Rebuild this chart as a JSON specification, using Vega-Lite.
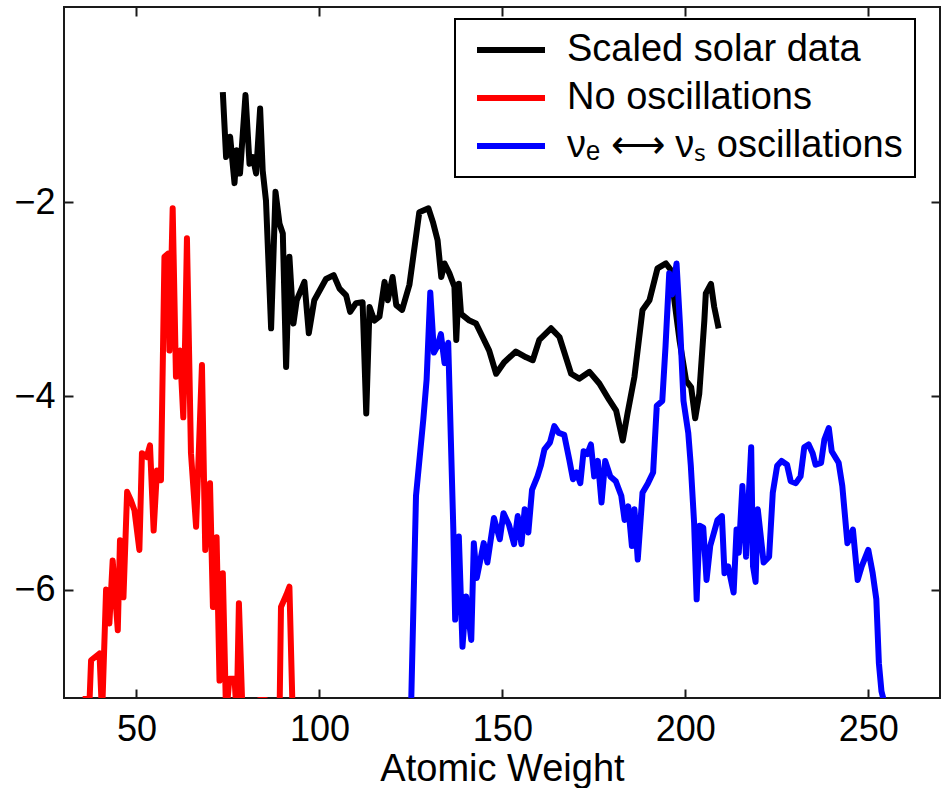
{
"$schema": "https://vega.github.io/schema/vega-lite/v6.json",
"width": 876, "height": 691,
"autosize": {"type": "none"},
"padding": {"left": 64, "top": 7, "right": 5, "bottom": 90},
"background": "white",
"config": {
  "view": {"stroke": "#1a1a1a", "strokeWidth": 2},
  "font": "Liberation Sans",
  "legend": {"strokeWidth": 2},
  "axis": {"domain": false, "grid": false, "tickColor": "#1a1a1a", "tickWidth": 2, "tickSize": -9, "labelFont": "Liberation Sans", "labelFontSize": 36, "labelColor": "black", "titleFont": "Liberation Sans", "titleFontSize": 38, "titleFontWeight": "normal", "titleColor": "black"}
},
"data": {"values": [
{"s":"noosc","x":35.3,"y":-7.13},{"s":"noosc","x":37.2,"y":-7.13},{"s":"noosc","x":37.6,"y":-6.73},{"s":"noosc","x":39.9,"y":-6.66},{"s":"noosc","x":40.6,"y":-7.3},{"s":"noosc","x":41.7,"y":-6.0},{"s":"noosc","x":42.6,"y":-6.35},{"s":"noosc","x":43.5,"y":-5.7},{"s":"noosc","x":44.9,"y":-6.42},{"s":"noosc","x":45.5,"y":-5.49},{"s":"noosc","x":46.45,"y":-6.08},{"s":"noosc","x":47.45,"y":-4.99},{"s":"noosc","x":48.5,"y":-5.08},{"s":"noosc","x":49.45,"y":-5.18},{"s":"noosc","x":50.8,"y":-5.59},{"s":"noosc","x":51.5,"y":-4.59},{"s":"noosc","x":52.8,"y":-4.63},{"s":"noosc","x":53.7,"y":-4.51},{"s":"noosc","x":54.7,"y":-5.39},{"s":"noosc","x":55.6,"y":-4.77},{"s":"noosc","x":56.7,"y":-4.87},{"s":"noosc","x":57.65,"y":-2.56},{"s":"noosc","x":58.6,"y":-2.53},{"s":"noosc","x":59.0,"y":-3.53},{"s":"noosc","x":59.9,"y":-2.06},{"s":"noosc","x":60.8,"y":-3.8},{"s":"noosc","x":61.9,"y":-3.53},{"s":"noosc","x":62.8,"y":-4.22},{"s":"noosc","x":63.3,"y":-3.42},{"s":"noosc","x":63.8,"y":-2.37},{"s":"noosc","x":64.9,"y":-4.59},{"s":"noosc","x":66.3,"y":-5.35},{"s":"noosc","x":67.9,"y":-3.68},{"s":"noosc","x":68.8,"y":-5.59},{"s":"noosc","x":70.1,"y":-4.9},{"s":"noosc","x":70.9,"y":-6.18},{"s":"noosc","x":71.9,"y":-5.46},{"s":"noosc","x":72.7,"y":-6.94},{"s":"noosc","x":73.6,"y":-5.83},{"s":"noosc","x":74.5,"y":-7.3},{"s":"noosc","x":75.4,"y":-6.92},{"s":"noosc","x":76.8,"y":-6.92},{"s":"noosc","x":77.4,"y":-7.3},{"s":"noosc","x":78.0,"y":-6.14},{"s":"noosc","x":79.0,"y":-7.3},{"s":"noosc","x":83.4,"y":-7.3},{"s":"noosc","x":83.6,"y":-7.14},{"s":"noosc","x":85.3,"y":-7.14},{"s":"noosc","x":85.6,"y":-7.3},{"s":"noosc","x":89.1,"y":-7.3},{"s":"noosc","x":89.5,"y":-6.18},{"s":"noosc","x":91.0,"y":-6.05},{"s":"noosc","x":91.8,"y":-5.97},{"s":"noosc","x":92.7,"y":-7.3},
{"s":"solar","x":73.6,"y":-0.86},{"s":"solar","x":74.5,"y":-1.53},{"s":"solar","x":75.6,"y":-1.32},{"s":"solar","x":76.8,"y":-1.8},{"s":"solar","x":77.4,"y":-1.46},{"s":"solar","x":78.3,"y":-1.7},{"s":"solar","x":79.8,"y":-0.89},{"s":"solar","x":80.9,"y":-1.6},{"s":"solar","x":81.8,"y":-1.53},{"s":"solar","x":82.7,"y":-1.7},{"s":"solar","x":83.8,"y":-1.03},{"s":"solar","x":84.5,"y":-1.67},{"s":"solar","x":85.4,"y":-1.98},{"s":"solar","x":86.8,"y":-3.3},{"s":"solar","x":88.0,"y":-1.89},{"s":"solar","x":89.1,"y":-2.22},{"s":"solar","x":90.0,"y":-2.32},{"s":"solar","x":90.9,"y":-3.7},{"s":"solar","x":91.8,"y":-2.56},{"s":"solar","x":92.9,"y":-3.25},{"s":"solar","x":93.8,"y":-3.01},{"s":"solar","x":95.9,"y":-2.82},{"s":"solar","x":97.1,"y":-3.35},{"s":"solar","x":98.6,"y":-3.01},{"s":"solar","x":101.8,"y":-2.79},{"s":"solar","x":103.9,"y":-2.75},{"s":"solar","x":105.5,"y":-2.89},{"s":"solar","x":107.3,"y":-2.96},{"s":"solar","x":108.4,"y":-3.13},{"s":"solar","x":110.0,"y":-3.04},{"s":"solar","x":111.8,"y":-3.03},{"s":"solar","x":112.8,"y":-4.18},{"s":"solar","x":113.7,"y":-3.08},{"s":"solar","x":115.0,"y":-3.22},{"s":"solar","x":116.4,"y":-3.18},{"s":"solar","x":117.8,"y":-2.82},{"s":"solar","x":118.7,"y":-3.01},{"s":"solar","x":120.0,"y":-2.77},{"s":"solar","x":121.0,"y":-3.06},{"s":"solar","x":122.6,"y":-3.11},{"s":"solar","x":124.6,"y":-2.85},{"s":"solar","x":127.3,"y":-2.1},{"s":"solar","x":129.8,"y":-2.06},{"s":"solar","x":131.0,"y":-2.2},{"s":"solar","x":132.3,"y":-2.39},{"s":"solar","x":133.3,"y":-2.77},{"s":"solar","x":134.2,"y":-2.63},{"s":"solar","x":135.5,"y":-2.73},{"s":"solar","x":136.9,"y":-2.87},{"s":"solar","x":137.4,"y":-3.42},{"s":"solar","x":138.1,"y":-2.84},{"s":"solar","x":138.7,"y":-3.15},{"s":"solar","x":141.0,"y":-3.22},{"s":"solar","x":142.8,"y":-3.25},{"s":"solar","x":144.6,"y":-3.39},{"s":"solar","x":146.4,"y":-3.53},{"s":"solar","x":148.3,"y":-3.77},{"s":"solar","x":150.5,"y":-3.65},{"s":"solar","x":153.7,"y":-3.54},{"s":"solar","x":156.5,"y":-3.6},{"s":"solar","x":158.3,"y":-3.63},{"s":"solar","x":160.1,"y":-3.42},{"s":"solar","x":163.3,"y":-3.3},{"s":"solar","x":165.6,"y":-3.39},{"s":"solar","x":168.8,"y":-3.77},{"s":"solar","x":171.0,"y":-3.82},{"s":"solar","x":173.8,"y":-3.75},{"s":"solar","x":176.5,"y":-3.87},{"s":"solar","x":179.2,"y":-4.04},{"s":"solar","x":181.1,"y":-4.15},{"s":"solar","x":182.9,"y":-4.46},{"s":"solar","x":184.2,"y":-4.18},{"s":"solar","x":186.1,"y":-3.8},{"s":"solar","x":188.3,"y":-3.11},{"s":"solar","x":190.2,"y":-3.01},{"s":"solar","x":192.4,"y":-2.68},{"s":"solar","x":194.7,"y":-2.63},{"s":"solar","x":196.1,"y":-2.7},{"s":"solar","x":197.0,"y":-3.01},{"s":"solar","x":198.4,"y":-3.42},{"s":"solar","x":200.2,"y":-3.84},{"s":"solar","x":201.6,"y":-3.91},{"s":"solar","x":202.7,"y":-4.23},{"s":"solar","x":203.8,"y":-3.98},{"s":"solar","x":205.2,"y":-3.22},{"s":"solar","x":205.6,"y":-2.94},{"s":"solar","x":207.0,"y":-2.84},{"s":"solar","x":207.9,"y":-3.08},{"s":"solar","x":209.1,"y":-3.3},
{"s":"osc","x":125.0,"y":-7.3},{"s":"osc","x":126.4,"y":-5.03},{"s":"osc","x":128.4,"y":-4.24},{"s":"osc","x":129.3,"y":-3.83},{"s":"osc","x":130.3,"y":-2.93},{"s":"osc","x":131.3,"y":-3.55},{"s":"osc","x":132.3,"y":-3.48},{"s":"osc","x":133.2,"y":-3.36},{"s":"osc","x":134.2,"y":-3.66},{"s":"osc","x":135.2,"y":-3.45},{"s":"osc","x":136.6,"y":-5.38},{"s":"osc","x":137.1,"y":-6.31},{"s":"osc","x":138.1,"y":-5.45},{"s":"osc","x":139.1,"y":-6.59},{"s":"osc","x":140.1,"y":-6.07},{"s":"osc","x":141.5,"y":-6.52},{"s":"osc","x":142.2,"y":-5.52},{"s":"osc","x":143.0,"y":-5.88},{"s":"osc","x":144.9,"y":-5.52},{"s":"osc","x":145.9,"y":-5.72},{"s":"osc","x":147.7,"y":-5.26},{"s":"osc","x":149.3,"y":-5.48},{"s":"osc","x":150.3,"y":-5.21},{"s":"osc","x":151.8,"y":-5.33},{"s":"osc","x":153.2,"y":-5.53},{"s":"osc","x":154.2,"y":-5.24},{"s":"osc","x":155.2,"y":-5.53},{"s":"osc","x":156.1,"y":-5.17},{"s":"osc","x":157.1,"y":-5.41},{"s":"osc","x":158.1,"y":-4.97},{"s":"osc","x":159.6,"y":-4.83},{"s":"osc","x":160.5,"y":-4.72},{"s":"osc","x":161.5,"y":-4.55},{"s":"osc","x":163.0,"y":-4.48},{"s":"osc","x":164.2,"y":-4.31},{"s":"osc","x":165.4,"y":-4.38},{"s":"osc","x":166.9,"y":-4.4},{"s":"osc","x":168.3,"y":-4.66},{"s":"osc","x":169.3,"y":-4.86},{"s":"osc","x":170.3,"y":-4.79},{"s":"osc","x":171.3,"y":-4.9},{"s":"osc","x":172.2,"y":-4.57},{"s":"osc","x":173.2,"y":-4.6},{"s":"osc","x":174.2,"y":-4.5},{"s":"osc","x":175.1,"y":-4.83},{"s":"osc","x":176.1,"y":-4.67},{"s":"osc","x":177.1,"y":-5.1},{"s":"osc","x":178.1,"y":-4.67},{"s":"osc","x":179.5,"y":-4.83},{"s":"osc","x":181.0,"y":-4.88},{"s":"osc","x":182.5,"y":-5.03},{"s":"osc","x":183.4,"y":-5.28},{"s":"osc","x":184.4,"y":-5.14},{"s":"osc","x":185.4,"y":-5.55},{"s":"osc","x":186.1,"y":-5.17},{"s":"osc","x":187.0,"y":-5.69},{"s":"osc","x":188.3,"y":-5.0},{"s":"osc","x":189.8,"y":-4.9},{"s":"osc","x":191.2,"y":-4.79},{"s":"osc","x":192.2,"y":-4.1},{"s":"osc","x":193.7,"y":-4.05},{"s":"osc","x":194.6,"y":-3.48},{"s":"osc","x":195.6,"y":-2.73},{"s":"osc","x":196.4,"y":-2.95},{"s":"osc","x":197.6,"y":-2.63},{"s":"osc","x":198.6,"y":-3.3},{"s":"osc","x":199.5,"y":-4.05},{"s":"osc","x":200.8,"y":-4.38},{"s":"osc","x":201.5,"y":-4.72},{"s":"osc","x":202.4,"y":-5.31},{"s":"osc","x":203.1,"y":-6.1},{"s":"osc","x":203.9,"y":-5.34},{"s":"osc","x":204.9,"y":-5.36},{"s":"osc","x":205.8,"y":-5.9},{"s":"osc","x":206.8,"y":-5.55},{"s":"osc","x":208.8,"y":-5.28},{"s":"osc","x":210.0,"y":-5.24},{"s":"osc","x":210.7,"y":-5.83},{"s":"osc","x":211.7,"y":-5.76},{"s":"osc","x":213.2,"y":-6.03},{"s":"osc","x":214.0,"y":-5.38},{"s":"osc","x":214.6,"y":-5.62},{"s":"osc","x":215.6,"y":-4.93},{"s":"osc","x":216.6,"y":-5.66},{"s":"osc","x":217.1,"y":-5.21},{"s":"osc","x":218.0,"y":-4.53},{"s":"osc","x":218.5,"y":-5.76},{"s":"osc","x":219.2,"y":-5.92},{"s":"osc","x":219.8,"y":-5.17},{"s":"osc","x":220.5,"y":-5.41},{"s":"osc","x":221.4,"y":-5.72},{"s":"osc","x":222.9,"y":-5.66},{"s":"osc","x":223.9,"y":-5.0},{"s":"osc","x":225.1,"y":-4.72},{"s":"osc","x":226.3,"y":-4.67},{"s":"osc","x":227.8,"y":-4.71},{"s":"osc","x":228.8,"y":-4.88},{"s":"osc","x":230.2,"y":-4.9},{"s":"osc","x":231.5,"y":-4.83},{"s":"osc","x":232.5,"y":-4.53},{"s":"osc","x":233.7,"y":-4.5},{"s":"osc","x":234.8,"y":-4.59},{"s":"osc","x":235.6,"y":-4.71},{"s":"osc","x":237.1,"y":-4.69},{"s":"osc","x":238.0,"y":-4.45},{"s":"osc","x":239.2,"y":-4.33},{"s":"osc","x":240.0,"y":-4.57},{"s":"osc","x":241.9,"y":-4.69},{"s":"osc","x":242.9,"y":-4.93},{"s":"osc","x":244.3,"y":-5.52},{"s":"osc","x":245.8,"y":-5.38},{"s":"osc","x":247.1,"y":-5.9},{"s":"osc","x":248.2,"y":-5.76},{"s":"osc","x":250.0,"y":-5.59},{"s":"osc","x":251.2,"y":-5.83},{"s":"osc","x":252.2,"y":-6.1},{"s":"osc","x":252.9,"y":-6.76},{"s":"osc","x":253.6,"y":-7.05},{"s":"osc","x":254.6,"y":-7.2}
]},
"layer": [
 {"mark": {"type": "line", "strokeWidth": 6, "strokeJoin": "round", "clip": true},
  "encoding": {
   "x": {"field": "x", "type": "quantitative", "scale": {"domain": [30.2, 269.6], "nice": false, "zero": false},
         "axis": {"orient": "bottom", "values": [50, 100, 150, 200, 250], "title": "Atomic Weight", "labelPadding": 23, "titlePadding": 3}},
   "y": {"field": "y", "type": "quantitative", "scale": {"domain": [-7.12, 0.02], "nice": false, "zero": false},
         "axis": {"orient": "left", "values": [-2, -4, -6], "title": null, "labelPadding": 18}},
   "color": {"field": "s", "type": "nominal",
     "scale": {"domain": ["solar", "noosc", "osc"], "range": ["#000000", "#ff0000", "#0000ff"]},
     "legend": {"orient": "none", "legendX": 391, "legendY": 12, "title": null, "symbolType": "stroke", "symbolStrokeWidth": 6, "symbolSize": 4624,
       "labelFontSize": 38, "labelFont": "Liberation Sans", "labelColor": "black", "labelLimit": 600,
       "strokeColor": "black", "fillColor": "white", "padding": 12, "rowPadding": 10, "clipHeight": 38, "labelOffset": 19, "symbolOffset": 7,
       "labelExpr": "datum.label == 'solar' ? 'Scaled solar data' : datum.label == 'noosc' ? 'No oscillations' : 'νₑ ⟷ νₛ oscillations\u00a0\u2009'"}}
  }},
 {"mark": {"type": "point", "opacity": 0},
  "encoding": {
   "x": {"field": "x", "type": "quantitative", "scale": {"domain": [30.2, 269.6], "nice": false, "zero": false},
         "axis": {"orient": "top", "values": [50, 100, 150, 200, 250], "labels": false, "title": null}},
   "y": {"field": "y", "type": "quantitative", "scale": {"domain": [-7.12, 0.02], "nice": false, "zero": false},
         "axis": {"orient": "right", "values": [-2, -4, -6], "labels": false, "title": null}}
  }}
],
"resolve": {"axis": {"x": "independent", "y": "independent"}}
}
